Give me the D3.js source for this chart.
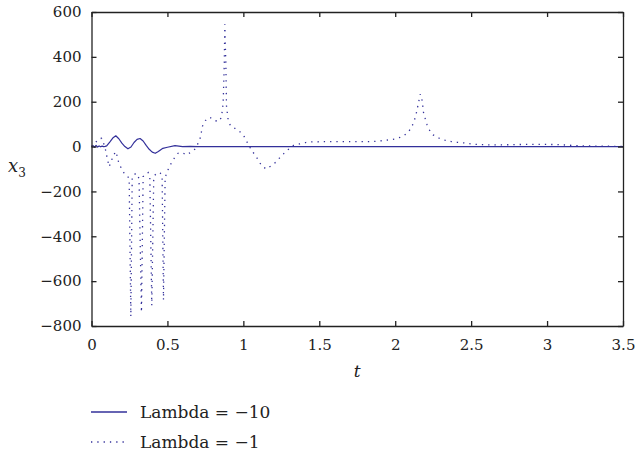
<!DOCTYPE html>
<html>
<head>
<meta charset="utf-8">
<script src="https://cdn.jsdelivr.net/npm/d3@7"></script>
<style>
  body { margin: 0; background: #fff; }
  text { font-family: "DejaVu Serif", serif; fill: #222; }
</style>
</head>
<body>
<div id="chart"></div>
<script>
// Lambda = -10 (solid)
const solidT = [0, 0.01, 0.02, 0.03, 0.04, 0.05, 0.06, 0.07, 0.08, 0.09, 0.1, 0.12, 0.14, 0.16, 0.18, 0.2, 0.22, 0.24, 0.26, 0.28, 0.3, 0.32, 0.34, 0.36, 0.38, 0.4, 0.42, 0.44, 0.47, 0.5, 0.55, 0.6, 0.65, 0.7, 0.8, 1.0, 3.5];
const solidY = [0, 4, -3, 5, -2, 3, -1, 2, 0, 1, 3, 20, 38, 48, 35, 15, 0, -10, -2, 18, 32, 36, 25, 5, -12, -25, -30, -22, -8, -3, 4, 0, 1, 0, 0, 0, 0];

// Lambda = -1 (dotted)
const dotT = [0, 0.02, 0.044, 0.066, 0.088, 0.099, 0.116, 0.13, 0.14, 0.16, 0.17, 0.18, 0.197, 0.215, 0.23, 0.248, 0.259, 0.268, 0.28, 0.296,
  0.313, 0.329, 0.34, 0.355, 0.373, 0.384, 0.397, 0.41, 0.428, 0.44, 0.454, 0.465, 0.474, 0.485, 0.498, 0.507, 0.522, 0.537, 0.555, 0.57,
  0.6, 0.626, 0.65, 0.68, 0.7, 0.718, 0.73, 0.75, 0.779, 0.81, 0.84, 0.856, 0.867, 0.874, 0.878, 0.885, 0.889, 0.9, 0.915, 0.943,
  0.976, 1.005, 1.04, 1.06, 1.085, 1.107, 1.13, 1.15, 1.18, 1.213, 1.246, 1.28, 1.31, 1.33, 1.37, 1.41, 1.45, 1.55, 1.7, 1.843,
  1.93, 2.0, 2.05, 2.084, 2.106, 2.121, 2.134, 2.143, 2.152, 2.165, 2.178, 2.187, 2.2, 2.21, 2.227, 2.25, 2.29, 2.33, 2.37, 2.41,
  2.46, 2.5, 2.545, 2.67, 2.8, 2.93, 3.06, 3.15, 3.24, 3.37, 3.5];
const dotY = [0, 12, 33, 37, 0, -37, -90, -67, -45, -22, -45, -75, -97, -119, -127, -142, -758, -140, -125, -119,
  -142, -739, -134, -125, -116, -134, -709, -134, -119, -115, -119, -134, -684, -134, -119, -97, -78, -60, -42, -30,
  -28, -37, -27, -12, 12, 42, 90, 116, 131, 116, 112, 131, 194, 358, 545, 358, 179, 119, 93, 82,
  67, 45, 0, -22, -45, -72, -90, -100, -87, -70, -45, -22, -5, 5, 12, 18, 21, 22, 22, 22,
  27, 34, 45, 63, 84, 107, 134, 161, 191, 234, 204, 149, 119, 97, 72, 52, 37, 28, 22, 19,
  16, 12, 9, 7, 9, 10, 9, 6, 3, 1.5, 1];

const xTicks = [0, 0.5, 1, 1.5, 2, 2.5, 3, 3.5];
const yTicks = [-800, -600, -400, -200, 0, 200, 400, 600];
const legendLabels = ["Lambda = \u221210", "Lambda = \u22121"];

const W = 635, H = 454;
const margin = {top: 12, right: 12, bottom: 128, left: 91.5};
const width = W - margin.left - margin.right;
const height = H - margin.top - margin.bottom;
const lineColor = "#33309a";

const svg = d3.select("#chart").append("svg")
  .attr("width", W).attr("height", H);
const g = svg.append("g")
  .attr("transform", "translate(" + margin.left + "," + margin.top + ")");

const x = d3.scaleLinear().domain([0, 3.5]).range([0, width]);
const y = d3.scaleLinear().domain([-800, 600]).range([height, 0]);

const fmt = d => d3.format("")(d);

// data lines
const line = d3.line().x(d => x(d[0])).y(d => y(d[1]));
g.append("path")
  .datum(dotT.map((t, i) => [t, dotY[i]]))
  .attr("fill", "none")
  .attr("stroke", lineColor)
  .attr("stroke-width", 1.3)
  .attr("stroke-dasharray", "1.3,5")
  .attr("d", line);
g.append("path")
  .datum(solidT.map((t, i) => [t, solidY[i]]))
  .attr("fill", "none")
  .attr("stroke", lineColor)
  .attr("stroke-width", 1.2)
  .attr("stroke-linejoin", "round")
  .attr("d", line);

// axes, ticks inward on all four sides
g.append("g").attr("transform", "translate(0," + height + ")")
  .call(d3.axisBottom(x).tickValues(xTicks).tickFormat(fmt).tickSize(-5).tickSizeOuter(0).tickPadding(13));
g.append("g")
  .call(d3.axisLeft(y).tickValues(yTicks).tickFormat(fmt).tickSize(-5).tickSizeOuter(0).tickPadding(10));
g.append("g")
  .call(d3.axisTop(x).tickValues(xTicks).tickFormat("").tickSize(-5).tickSizeOuter(0));
g.append("g").attr("transform", "translate(" + width + ",0)")
  .call(d3.axisRight(y).tickValues(yTicks).tickFormat("").tickSize(-5).tickSizeOuter(0));

g.selectAll(".domain, .tick line").attr("stroke", "#222").attr("stroke-width", 1.3);
g.selectAll(".tick text").style("font-family", "DejaVu Serif, serif").style("font-size", "15px").attr("fill", "#222");

// axis titles
svg.append("text")
  .attr("x", margin.left + width / 2).attr("y", 377)
  .attr("text-anchor", "middle")
  .style("font-style", "italic").style("font-size", "17px")
  .text("t");
const ylab = svg.append("text")
  .attr("x", 8).attr("y", 172)
  .style("font-style", "italic").style("font-size", "18px");
ylab.append("tspan").text("x");
ylab.append("tspan").attr("dy", 5).style("font-style", "normal").style("font-size", "12px").text("3");

// legend
const legend = svg.append("g");
[0, 1].forEach(i => {
  const ly = 412 + i * 30;
  legend.append("line")
    .attr("x1", 91).attr("x2", 127).attr("y1", ly).attr("y2", ly)
    .attr("stroke", lineColor).attr("stroke-width", 1.3)
    .attr("stroke-dasharray", i === 0 ? null : "1.3,5");
  legend.append("text")
    .attr("x", 140).attr("y", ly).attr("dy", "0.35em")
    .style("font-size", "17px")
    .text(legendLabels[i]);
});
</script>
</body>
</html>
